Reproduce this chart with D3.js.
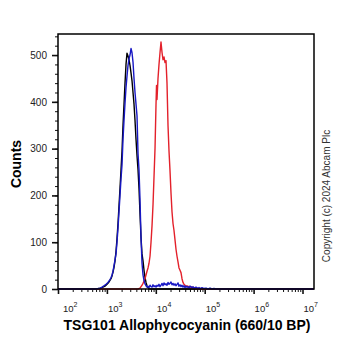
<!DOCTYPE html>
<html lang="en">
<head>
<meta charset="UTF-8" />
<title>TSG101 flow cytometry histogram</title>
<script src="https://d3js.org/d3.v7.min.js"></script>
<style>
    body { margin: 0; background: #fff; }
    svg { display: block; font-family: "Liberation Sans", Arial, sans-serif; }
</style>
</head>
<body>
<div id="chart"></div>
<script>
    const width = 362;
    const height = 351;
    const marginTop = 34;
    const marginRight = 48;
    const marginBottom = 62;
    const marginLeft = 58;

    // [intensity, counts]
    const blackSeries = [
        [100, 0], [627, 0], [689, 1], [757, 2], [832, 4], [914, 6], [1005, 10], [1104, 15],
        [1213, 22], [1272, 28], [1333, 36], [1397, 46], [1465, 60], [1535, 80], [1609, 108],
        [1687, 140], [1768, 178], [1853, 215], [1943, 255], [2037, 295], [2135, 350], [2238, 395],
        [2346, 440], [2459, 480], [2577, 504], [2702, 498], [2832, 490], [2968, 478], [3112, 462],
        [3262, 445], [3419, 420], [3584, 395], [3757, 360], [3938, 320], [4128, 285], [4327, 255],
        [4535, 215], [4754, 160], [4983, 110], [5224, 75], [5476, 60], [5740, 40], [6016, 25],
        [6306, 14], [6610, 7], [6929, 3], [7263, 1], [7614, 0], [17000000, 0]
    ];

    const redSeries = [
        [100, 0], [4327, 0], [4754, 2], [4983, 5], [5224, 8], [5476, 12], [5740, 17], [6016, 22],
        [6306, 30], [6610, 38], [6929, 45], [7263, 55], [7614, 70], [7981, 100], [8366, 135],
        [8769, 180], [9192, 240], [9635, 300], [10100, 395], [10340, 435], [10581, 405],
        [11091, 450], [11626, 480], [12186, 505], [12774, 528], [13390, 506], [14035, 490],
        [14712, 496], [15421, 484], [16165, 488], [16944, 440], [17761, 350], [18617, 295],
        [19515, 253], [20456, 205], [21442, 165], [22476, 140], [23560, 125], [24696, 105],
        [25886, 85], [27134, 70], [28443, 58], [29814, 45], [31252, 40], [32759, 35], [34338, 22],
        [35994, 14], [37729, 10], [39548, 8], [41455, 5], [43454, 7], [45549, 4], [47745, 6],
        [50047, 3], [52460, 5], [54990, 2], [57641, 4], [60420, 1], [63333, 3], [66387, 1],
        [69588, 2], [72943, 0], [80147, 1], [88060, 0], [17000000, 0]
    ];

    const blueSeries = [
        [100, 0], [571, 0], [657, 1], [722, 2], [794, 4], [872, 7], [959, 10], [1053, 14],
        [1157, 20], [1213, 24], [1272, 30], [1333, 38], [1397, 50], [1465, 62], [1535, 75],
        [1609, 100], [1687, 130], [1768, 165], [1853, 200], [1943, 235], [2037, 265], [2135, 320],
        [2238, 360], [2346, 397], [2459, 430], [2577, 455], [2702, 478], [2832, 492], [2968, 500],
        [3112, 514], [3262, 505], [3419, 485], [3584, 450], [3757, 420], [3938, 395], [4128, 370],
        [4327, 290], [4535, 255], [4754, 190], [4983, 110], [5224, 55], [5476, 30], [5740, 18],
        [6016, 11], [6306, 7], [6610, 4], [6929, 6], [7263, 3], [7614, 8], [7981, 5], [8366, 4],
        [8769, 9], [9192, 5], [9635, 7], [10100, 4], [10581, 8], [11091, 6], [11626, 10],
        [12186, 5], [12774, 8], [13390, 12], [14035, 7], [14712, 13], [15421, 9], [16165, 11],
        [16944, 8], [17761, 14], [18617, 10], [19515, 12], [20456, 15], [21442, 9], [22476, 12],
        [23560, 8], [24696, 11], [25886, 7], [27134, 10], [28443, 13], [29814, 6], [31252, 9],
        [32759, 5], [34338, 8], [35994, 4], [37729, 7], [39548, 3], [41455, 6], [43454, 4],
        [45549, 5], [47745, 2], [50047, 6], [54990, 3], [57641, 5], [60420, 2], [66387, 4],
        [72943, 1], [76460, 3], [80147, 1], [88060, 3], [96760, 1], [106300, 2], [116800, 0],
        [128400, 2], [141000, 0], [155000, 1], [170300, 0], [17000000, 0]
    ];

    const countTicks = [0, 100, 200, 300, 400, 500];
    const decadeTicks = [1e2, 1e3, 1e4, 1e5, 1e6, 1e7];
    const xTitle = "TSG101 Allophycocyanin (660/10 BP)";
    const yTitle = "Counts";
    const copyright = "Copyright (c) 2024 Abcam Plc";

    const svg = d3.select("#chart")
        .append("svg")
        .attr("width", width)
        .attr("height", height);

    const x = d3.scaleLog()
        .domain([1e2, 1.718e7])
        .range([marginLeft, width - marginRight]);

    const y = d3.scaleLinear()
        .domain([0, 545])
        .range([height - marginBottom, marginTop]);

    // minor log ticks (2..9 x 10^n)
    const minorX = x.ticks().filter(v => !decadeTicks.includes(v));

    svg.append("g")
        .attr("transform", `translate(0,${height - marginBottom})`)
        .call(d3.axisBottom(x).tickValues(minorX).tickSize(3).tickFormat(""))
        .call(g => g.select(".domain").remove())
        .call(g => g.selectAll("line").attr("stroke", "#111"));

    svg.append("g")
        .attr("transform", `translate(0,${height - marginBottom})`)
        .call(d3.axisBottom(x).tickValues(decadeTicks).tickSize(5).tickFormat(""))
        .call(g => g.select(".domain").remove())
        .call(g => g.selectAll("line").attr("stroke", "#111").attr("stroke-width", 1.6));

    const xLabels = svg.append("g")
        .selectAll("text")
        .data(decadeTicks)
        .join("text")
        .attr("x", d => Math.max(x(d) + 1, 63))
        .attr("y", 312)
        .attr("font-size", 9.5)
        .attr("fill", "#222");
    xLabels.append("tspan").text("10");
    xLabels.append("tspan")
        .attr("dy", -5)
        .attr("font-size", 7)
        .text(d => Math.round(Math.log10(d)));

    // y axis, minor ticks every 20
    svg.append("g")
        .attr("transform", `translate(${marginLeft},0)`)
        .call(d3.axisLeft(y).tickValues(d3.range(0, 545, 20)).tickSize(3).tickFormat(""))
        .call(g => g.select(".domain").remove())
        .call(g => g.selectAll("line").attr("stroke", "#111"));

    svg.append("g")
        .attr("transform", `translate(${marginLeft},0)`)
        .call(d3.axisLeft(y).tickValues(countTicks).tickSize(6).tickPadding(5))
        .call(g => g.select(".domain").remove())
        .call(g => g.selectAll("line").attr("stroke", "#111").attr("stroke-width", 1.6))
        .call(g => g.selectAll("text")
            .attr("font-family", "'Liberation Sans', Arial, sans-serif")
            .attr("font-size", 10)
            .attr("fill", "#222"));

    const line = d3.line()
        .x(d => x(d[0]))
        .y(d => y(d[1]));

    const series = [
        { data: blackSeries, color: "#000000" },
        { data: redSeries, color: "#e3212b" },
        { data: blueSeries, color: "#1818c4" }
    ];

    svg.append("g")
        .selectAll("path")
        .data(series)
        .join("path")
        .attr("d", d => line(d.data))
        .attr("fill", "none")
        .attr("stroke", d => d.color)
        .attr("stroke-width", 1.4)
        .attr("stroke-linejoin", "round");

    // frame
    svg.append("rect")
        .attr("x", marginLeft)
        .attr("y", marginTop)
        .attr("width", width - marginRight - marginLeft)
        .attr("height", height - marginBottom - marginTop)
        .attr("fill", "none")
        .attr("stroke", "#000")
        .attr("stroke-width", 1.5);

    svg.append("text")
        .attr("transform", `translate(20.5,164) rotate(-90)`)
        .attr("text-anchor", "middle")
        .attr("font-size", 14)
        .attr("font-weight", "bold")
        .attr("fill", "#000")
        .text(yTitle);

    svg.append("text")
        .attr("x", 187)
        .attr("y", 330)
        .attr("text-anchor", "middle")
        .attr("font-size", 14)
        .attr("font-weight", "bold")
        .attr("fill", "#000")
        .text(xTitle);

    svg.append("text")
        .attr("transform", `translate(330,196) rotate(-90)`)
        .attr("text-anchor", "middle")
        .attr("font-size", 10)
        .attr("fill", "#333")
        .text(copyright);
</script>
</body>
</html>
